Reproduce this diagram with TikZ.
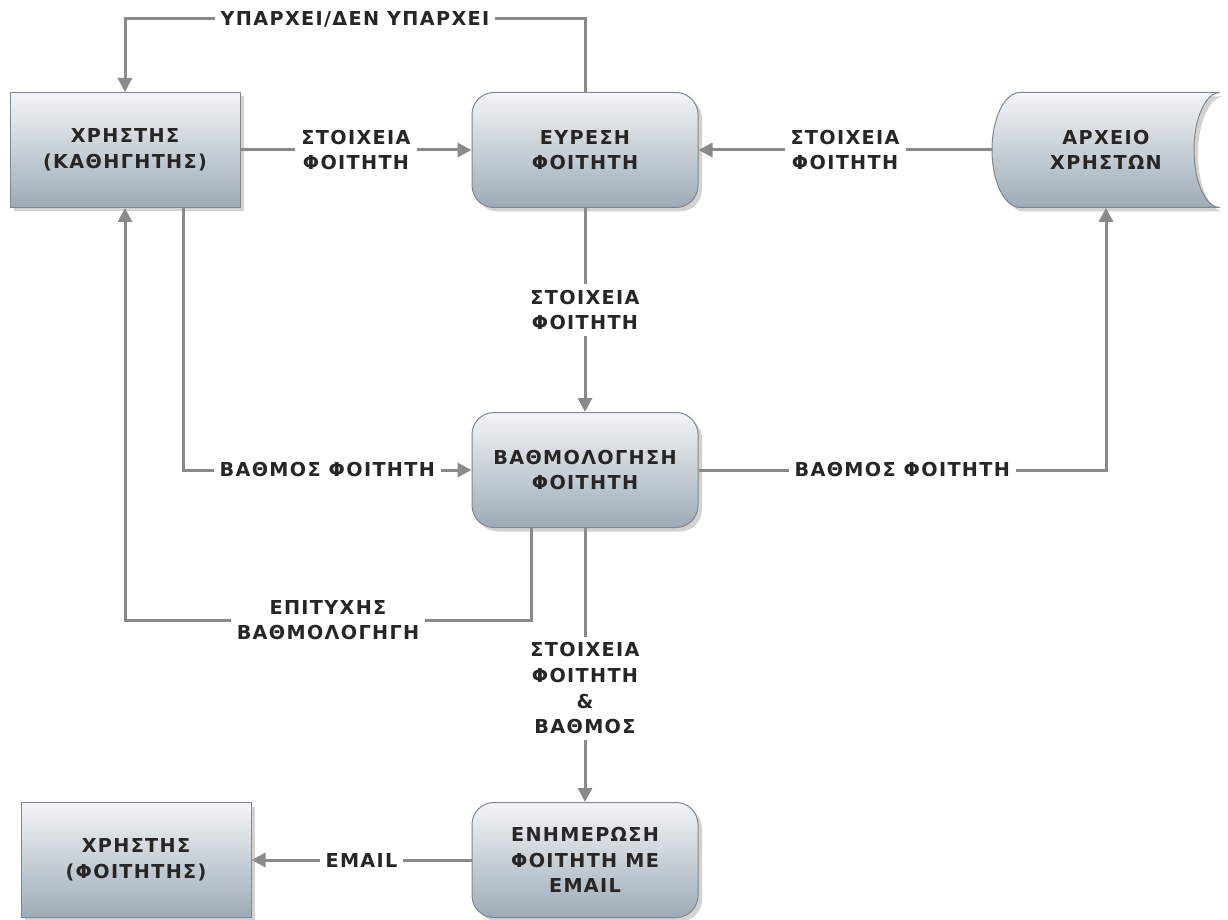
\documentclass[tikz,border=0pt]{standalone}
\usepackage{fontspec}
\setmainfont{DejaVu Sans}[LetterSpace=7]
\usetikzlibrary{arrows.meta,shadows,backgrounds}
\definecolor{boxtop}{HTML}{F3F5F7}
\definecolor{boxbot}{HTML}{9DABB7}
\definecolor{boxline}{HTML}{7D8891}
\definecolor{flowgray}{HTML}{8A8A8A}
\tikzset{
  every node/.style={font=\bfseries\fontsize{9.6}{12.8}\selectfont,text=black!85},
  boxlook/.style={draw=boxline,line width=0.5pt,top color=boxtop,bottom color=boxbot,
    drop shadow={shadow xshift=2pt,shadow yshift=-2pt,opacity=0.35}},
  ext/.style={boxlook,minimum width=115pt,minimum height=57.5pt,align=center},
  proc/.style={boxlook,rounded corners=11pt,minimum width=113pt,minimum height=57.5pt,align=center},
  store/.style={minimum width=114pt,minimum height=57.5pt,align=center},
  flow/.style={draw=flowgray,line width=1.5pt,-{Triangle[length=7pt,width=7pt]}},
  lab/.style={fill=white,inner sep=3pt,align=center}
}
\begin{document}
\begin{tikzpicture}[x=0.5pt,y=-0.5pt]
\path[use as bounding box](0,0)rectangle(1228,920);
% entities, processes, store
\node[ext](kath)at(125,150){ΧΡΗΣΤΗΣ\\(ΚΑΘΗΓΗΤΗΣ)};
\node[proc](eyr)at(585,150){ΕΥΡΕΣΗ\\ΦΟΙΤΗΤΗ};
\node[store](arx)at(1106,150){ΑΡΧΕΙΟ\\ΧΡΗΣΤΩΝ};
\node[proc](bath)at(585,470){ΒΑΘΜΟΛΟΓΗΣΗ\\ΦΟΙΤΗΤΗ};
\node[proc](enim)at(585,860){ΕΝΗΜΕΡΩΣΗ\\ΦΟΙΤΗΤΗ ΜΕ\\EMAIL};
\node[ext](foit)at(136,860){ΧΡΗΣΤΗΣ\\(ΦΟΙΤΗΤΗΣ)};
\begin{scope}[on background layer]
\fill[white](0,0)rectangle(1228,920);
\path[boxlook](1020,92.5)--(1220,92.5)..controls(1205.6,92.5)and(1194,118.2)..(1194,150)..controls(1194,181.8)and(1205.6,207.5)..(1220,207.5)
  --(1020,207.5)..controls(1004.5,207.5)and(992,181.8)..(992,150)..controls(992,118.2)and(1004.5,92.5)..cycle;
\end{scope}
% flows
\draw[flow](eyr.north)--++(0,-73)-|(kath.north)node[lab,pos=0.25]{ΥΠΑΡΧΕΙ/ΔΕΝ ΥΠΑΡΧΕΙ};
\draw[flow](kath.east)--(eyr.west)node[lab,midway]{ΣΤΟΙΧΕΙΑ\\ΦΟΙΤΗΤΗ};
\draw[flow](arx.west)--(eyr.east)node[lab,midway]{ΣΤΟΙΧΕΙΑ\\ΦΟΙΤΗΤΗ};
\draw[flow](eyr.south)--(bath.north)node[lab,midway]{ΣΤΟΙΧΕΙΑ\\ΦΟΙΤΗΤΗ};
\draw[flow]([xshift=29pt]kath.south)|-(bath.west)node[lab,pos=0.75]{ΒΑΘΜΟΣ ΦΟΙΤΗΤΗ};
\draw[flow](bath.east)-|(arx.south)node[lab,pos=0.25]{ΒΑΘΜΟΣ ΦΟΙΤΗΤΗ};
\draw[flow]([xshift=-27pt]bath.south)--++(0,92)-|(kath.south)node[lab,pos=0.25]{ΕΠΙΤΥΧΗΣ\\ΒΑΘΜΟΛΟΓΗΓΗ};
\draw[flow](bath.south)--(enim.north)node[lab,pos=0.585]{ΣΤΟΙΧΕΙΑ\\ΦΟΙΤΗΤΗ\\\&\\ΒΑΘΜΟΣ};
\draw[flow](enim.west)--(foit.east)node[lab,midway]{EMAIL};
\end{tikzpicture}
\end{document}
